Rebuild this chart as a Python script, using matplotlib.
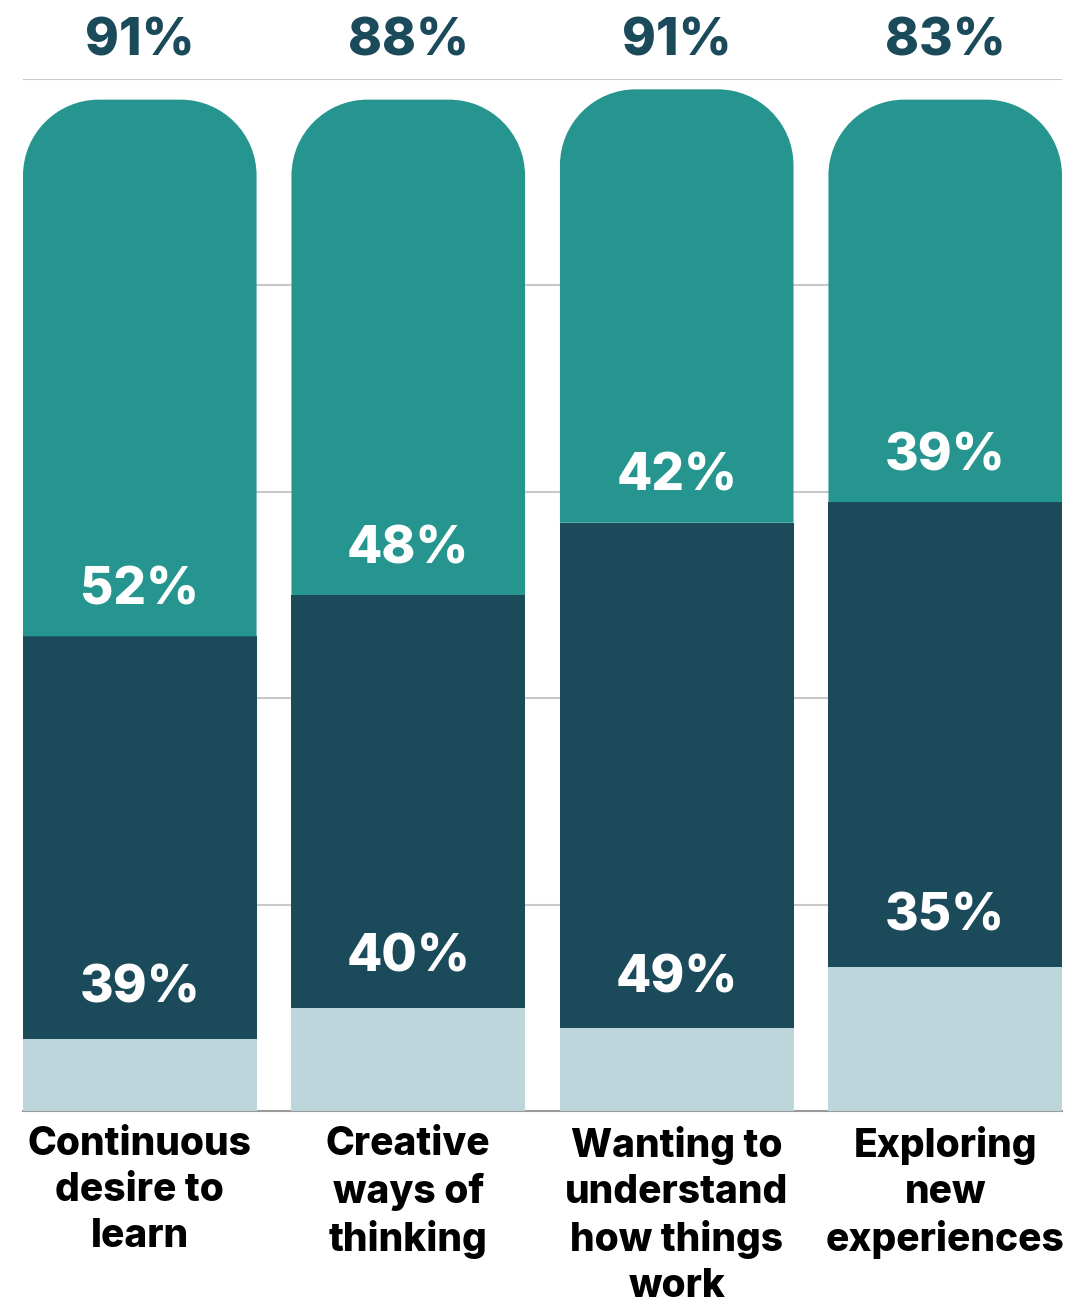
import matplotlib
matplotlib.use("Agg")
from matplotlib import pyplot as plt
from matplotlib.path import Path
from matplotlib.patches import PathPatch

# data
categories = ["Continuous\ndesire to\nlearn", "Creative\nways of\nthinking",
              "Wanting to\nunderstand\nhow things\nwork", "Exploring\nnew\nexperiences"]
light = [7, 10, 8, 14]
dark = [39, 40, 49, 45]
teal = [52, 48, 42, 39]
dark_labels = ["39%", "40%", "49%", "35%"]
teal_labels = ["52%", "48%", "42%", "39%"]
top_labels = ["91%", "88%", "91%", "83%"]

c_light = "#bdd6db"
c_dark = "#1b4a5b"
c_teal = "#26958f"

W, H, DPI = 10.76, 13.15, 100
fig = plt.figure(figsize=(W, H), dpi=DPI)
ax = fig.add_axes([23 / 1076, (1315 - 1111) / 1315, (1062 - 23) / 1076, (1111 - 79) / 1315])

width = 0.87
ax.set_xlim(-width / 2, 3 + width / 2)
ax.set_ylim(0, 100)

# pixels per data unit, used to keep the round tops circular
px_x = (1062 - 23) / (3 + width)
px_y = (1111 - 79) / 100.0


def rounded_top(ax, x, bottom, height, w, r_px, color):
    rx = r_px / px_x
    ry = r_px / px_y
    k = 0.5523
    x0, x1 = x - w / 2, x + w / 2
    top = bottom + height
    verts = [(x0, bottom), (x0, top - ry),
             (x0, top - ry + k * ry), (x0 + rx - k * rx, top), (x0 + rx, top),
             (x1 - rx, top),
             (x1 - rx + k * rx, top), (x1, top - ry + k * ry), (x1, top - ry),
             (x1, bottom), (x0, bottom)]
    codes = [Path.MOVETO, Path.LINETO,
             Path.CURVE4, Path.CURVE4, Path.CURVE4,
             Path.LINETO,
             Path.CURVE4, Path.CURVE4, Path.CURVE4,
             Path.LINETO, Path.CLOSEPOLY]
    ax.add_patch(PathPatch(Path(verts, codes), facecolor=color, edgecolor="none", zorder=3))


xs = range(len(categories))
ax.bar(xs, light, width=width, color=c_light, zorder=3)
ax.bar(xs, dark, width=width, bottom=light, color=c_dark, zorder=3)
for i in xs:
    rounded_top(ax, i, light[i] + dark[i], teal[i], width, 76, c_teal)

font = "Inter"
for i in xs:
    ax.text(i, light[i] + dark[i] + 4.4, teal_labels[i], ha="center", va="center",
            color="white", fontsize=37, fontweight="heavy", family=font, zorder=4)
    ax.text(i, light[i] + 4.8, dark_labels[i], ha="center", va="center",
            color="white", fontsize=37, fontweight="heavy", family=font, zorder=4)
    ax.text(i, 103.6, top_labels[i], ha="center", va="center", clip_on=False,
            color=c_dark, fontsize=37, fontweight="heavy", family=font)

ax.set_yticks([20, 40, 60, 80, 100])
ax.grid(axis="y", color="#c8c8c8", linewidth=1.5, zorder=0)
ax.tick_params(axis="y", length=0, labelleft=False)
ax.set_xticks(list(xs))
ax.set_xticklabels(categories, fontsize=28, fontweight="heavy", family=font,
                   linespacing=1.3, va="top")
ax.tick_params(axis="x", length=0, pad=11)
for s in ["left", "right", "top"]:
    ax.spines[s].set_visible(False)
ax.spines["bottom"].set_color("#999999")
ax.spines["bottom"].set_linewidth(1.5)

plt.savefig("out.png", dpi=DPI)
